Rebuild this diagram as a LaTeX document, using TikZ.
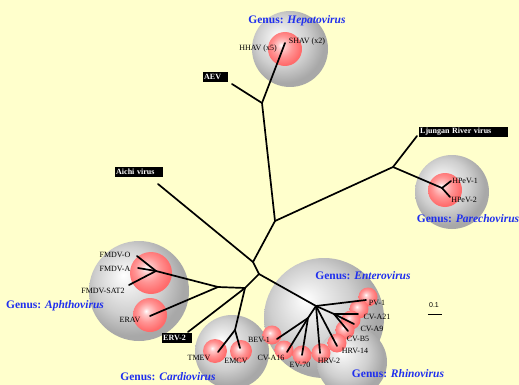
\documentclass[tikz,border=0pt]{standalone}
\usepackage{fontspec}
\setmainfont{Liberation Serif}
\setsansfont{Liberation Sans}
\usetikzlibrary{positioning}
\definecolor{BgYel}{HTML}{FFFFCC}
\definecolor{GenBlue}{HTML}{1F2FEE}
\pgfdeclareradialshading{greysph}{\pgfqpoint{-8bp}{8bp}}{color(0bp)=(white); color(5bp)=(black!6); color(17bp)=(black!19); color(26bp)=(black!34); color(50bp)=(black!34)}
\pgfdeclareradialshading{redsph}{\pgfqpoint{-6bp}{6bp}}{color(0bp)=(white); color(5bp)=(red!20!white); color(15bp)=(red!42!white); color(26bp)=(red!58!white); color(50bp)=(red!58!white)}
\tikzset{
  sph/.style={circle, inner sep=0pt, minimum size=#1},
  gsph/.style={sph=#1, shade, shading=greysph},
  rsph/.style={sph=#1, shade, shading=redsph},
  br/.style={line width=1.7pt, line cap=round, line join=round},
  tip/.style={font=\fontsize{8}{9}\selectfont, inner sep=0pt},
  genus/.style={font=\fontsize{11.5}{12}\selectfont\bfseries, text=GenBlue, inner sep=0pt},
  blk/.style={fill=black, text=white, font=\fontsize{8}{9}\selectfont\bfseries,
              inner xsep=1pt, inner ysep=0pt, minimum height=9.5pt, text width=#1,
              align=left},
}

\begin{document}
\begin{tikzpicture}[x=1pt,y=-1pt]
\useasboundingbox (0,0) rectangle (519,385);
\fill[BgYel] (0,0) rectangle (519,385);

% ---------------- genus spheres -------------------------------------------------
\node[gsph=76pt] (hepS) at (290,49) {};
\node[gsph=74pt] (parS) at (452,192) {};
\node[gsph=100pt] (aphS) at (139,291) {};
\node[gsph=120pt] (entS) at (324,318) {};
\node[gsph=70pt] (rhiS) at (352,362) {};
\node[gsph=74pt] (carS) at (232,352) {};

% ---------------- species spheres -----------------------------------------------
\node[rsph=34pt] (hepR) at (285,49) {};
\node[rsph=34pt] (parR) at (445,190) {};
\node[rsph=42pt] (fmdvR) at (151,273) {};
\node[rsph=34pt] (eravR) at (150,315) {};
\node[rsph=24pt] (tmevR) at (215,351) {};
\node[rsph=22pt] (emcvR) at (241,351) {};
\foreach \n/\x/\y in {pv1/368/297, cva21/359/309, cva9/351/320, cvb5/345/330,
                      hrv14/337/343, hrv2/321/353, ev70/302/355, cva16/284/350, bev1/272/335}{
  \node[rsph=19pt] (\n R) at (\x,\y) {};}

% ---------------- tree ----------------------------------------------------------
\coordinate (hepJ) at (262,103);
\coordinate (hepT) at (285,43);
\coordinate (aevT) at (232,84);
\coordinate (topJ) at (275,221);
\coordinate (parJ) at (393,167);
\coordinate (ljT) at (417,136);
\coordinate (hpevJ) at (442,188);
\coordinate (hpev1T) at (451,181);
\coordinate (hpev2T) at (450,197);
\coordinate (midJ) at (253,262);
\coordinate (aichiT) at (158,184);
\coordinate (lowJ) at (259,274);
\coordinate (picoJ) at (245,288);
\coordinate (aphJ) at (218,287);
\coordinate (fmdvJ) at (156,271);
\coordinate (fmdvOT) at (137,256);
\coordinate (fmdvAT) at (138,268);
\coordinate (fmdvST) at (129,285);
\coordinate (eravT) at (150,316);
\coordinate (erv2T) at (188,332);
\coordinate (carJ) at (235,330);
\coordinate (tmevT) at (218,352);
\coordinate (emcvT) at (240,348);
\coordinate (entJ) at (316,306);
\coordinate (cvbJ) at (334,314);
\coordinate (bevJ) at (308,318);
\coordinate (pv1T) at (366,300);
\coordinate (cva21T) at (358,314);
\coordinate (cva9T) at (354,324);
\coordinate (cvb5T) at (348,331);
\coordinate (hrv14T) at (337,346);
\coordinate (hrv2T) at (320,353);
\coordinate (bev1T) at (277,339);
\coordinate (cva16T) at (287,352);
\coordinate (ev70T) at (302,355);

\draw[br] (hepT) -- (hepJ) -- (topJ) -- (midJ) -- (lowJ) -- (entJ);
\draw[br] (aevT) -- (hepJ);
\draw[br] (topJ) -- (parJ) -- (ljT);
\draw[br] (parJ) -- (hpevJ);
\foreach \t in {hpev1T,hpev2T} \draw[br] (hpevJ) -- (\t);
\draw[br] (aichiT) -- (midJ);
\draw[br] (lowJ) -- (picoJ);
\foreach \t in {aphJ,erv2T,carJ} \draw[br] (picoJ) -- (\t);
\foreach \t in {tmevT,emcvT} \draw[br] (carJ) -- (\t);
\foreach \t in {fmdvJ,eravT} \draw[br] (aphJ) -- (\t);
\foreach \t in {fmdvOT,fmdvAT,fmdvST} \draw[br] (fmdvJ) -- (\t);
\foreach \t in {pv1T,cvbJ,hrv14T,hrv2T,bevJ} \draw[br] (entJ) -- (\t);
\foreach \t in {cva21T,cva9T,cvb5T} \draw[br] (cvbJ) -- (\t);
\foreach \t in {bev1T,cva16T,ev70T} \draw[br] (bevJ) -- (\t);

% ---------------- outgroup labels -----------------------------------------------
\node[blk=23pt, anchor=north west] (aev) at (203,72) {AEV};
\node[blk=46pt, anchor=north west] (aichi) at (115,167) {Aichi virus};
\node[blk=87pt, anchor=north west] (ljungan) at (419,127) {Ljungan River virus};
\node[blk=28pt, anchor=north west] (erv2) at (162,333) {ERV-2};

% ---------------- species labels ------------------------------------------------
\node[tip] (hhav) at (258,49) {HHAV (x5)};
\node[tip] (shav) at (307,42) {SHAV (x2)};
\node[tip] (hpev1) at (465,181) {HPeV-1};
\node[tip] (hpev2) at (464,200) {HPeV-2};
\node[tip] (fmdvO) at (115,255) {FMDV-O};
\node[tip] (fmdvA) at (115,269) {FMDV-A};
\node[tip] (fmdvS) at (103,291) {FMDV-SAT2};
\node[tip] (erav) at (130,320) {ERAV};
\node[tip] (tmev) at (199,358) {TMEV};
\node[tip] (emcv) at (236,361) {EMCV};
\node[tip] (pv1) at (377,303) {PV-1};
\node[tip] (cva21) at (377,317) {CV-A21};
\node[tip] (cva9) at (372,329) {CV-A9};
\node[tip] (cvb5) at (358,339) {CV-B5};
\node[tip] (hrv14) at (355,351) {HRV-14};
\node[tip] (hrv2) at (329,361) {HRV-2};
\node[tip] (ev70) at (300,365) {EV-70};
\node[tip] (cva16) at (271,358) {CV-A16};
\node[tip] (bev1) at (259,340) {BEV-1};

% ---------------- genus labels --------------------------------------------------
\node[genus] (gHep) at (297,21) {Genus: \textit{Hepatovirus}};
\node[genus] (gPar) at (468,219) {Genus: \textit{Parechovirus}};
\node[genus] (gAph) at (55,306) {Genus: \textit{Aphthovirus}};
\node[genus] (gCar) at (168,377) {Genus: \textit{Cardiovirus}};
\node[genus] (gEnt) at (363,276) {Genus: \textit{Enterovirus}};
\node[genus] (gRhi) at (398,374) {Genus: \textit{Rhinovirus}};

% ---------------- scale -----------------------------------------------------------
\node[font=\sffamily\fontsize{7}{8}\selectfont, inner sep=0pt] (scl) at (434,305) {0.1};
\draw[line width=1.5pt] (scl.south west) ++(-1,7) coordinate (sclA) -- ++(14,0) coordinate (sclB);
\end{tikzpicture}
\end{document}
